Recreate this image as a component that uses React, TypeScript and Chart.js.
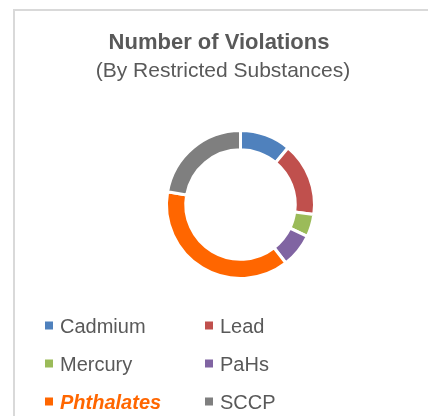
import React, { useEffect, useRef } from "react";
import { Chart, registerables } from "chart.js";

Chart.register(...registerables);

const titleText = "Number of Violations";
const subtitleText = "(By Restricted Substances)";
const categories = ["Cadmium", "Lead", "Mercury", "PaHs", "Phthalates", "SCCP"];
const violations = [9, 13, 4, 6, 31, 18];
const sliceColors = ["#4F81BD", "#C0504D", "#9BBB59", "#8064A2", "#FF6600", "#7F7F7F"];
const highlighted = ["Phthalates"];

const W = 428;
const H = 416;
const FONT = "'Liberation Sans', Arial, sans-serif";
const TEXT_COLOR = "#595959";

const frameAndText = {
  id: "frameAndText",
  beforeDraw(chart: any) {
    const ctx = chart.ctx as CanvasRenderingContext2D;
    ctx.save();
    ctx.fillStyle = "#FFFFFF";
    ctx.fillRect(0, 0, chart.width, chart.height);
    ctx.fillStyle = "#D9D9D9";
    ctx.fillRect(13, 9, chart.width - 13, 2);
    ctx.fillRect(13, 9, 2, chart.height - 9);
    ctx.restore();
  },
  afterDraw(chart: any) {
    const ctx = chart.ctx as CanvasRenderingContext2D;
    ctx.save();
    ctx.fillStyle = TEXT_COLOR;
    ctx.textAlign = "center";
    ctx.textBaseline = "alphabetic";
    ctx.font = `bold 22px ${FONT}`;
    ctx.fillText(titleText, 219, 49);
    ctx.font = `21px ${FONT}`;
    ctx.fillText(subtitleText, 223, 77);

    const labels = chart.data.labels as string[];
    const colors = chart.data.datasets[0].backgroundColor as string[];
    labels.forEach((lab, i) => {
      const col = i % 2;
      const row = Math.floor(i / 2);
      const mx = col === 0 ? 45 : 205;
      const cy = 325.5 + row * 38;
      ctx.fillStyle = colors[i];
      ctx.fillRect(mx, cy - 4, 8, 8);
      const hl = highlighted.includes(lab);
      ctx.fillStyle = hl ? colors[i] : TEXT_COLOR;
      ctx.font = `${hl ? "italic bold " : ""}20px ${FONT}`;
      ctx.textAlign = "left";
      ctx.fillText(lab, mx + 15, cy + 7);
    });
    ctx.restore();
  },
};

export default function App() {
  const canvasRef = useRef<HTMLCanvasElement | null>(null);

  useEffect(() => {
    const canvas = canvasRef.current;
    if (!canvas) return;
    const chart = new Chart(canvas, {
      type: "doughnut",
      data: {
        labels: categories,
        datasets: [
          {
            data: violations,
            backgroundColor: sliceColors,
            borderColor: "#FFFFFF",
            borderWidth: 3,
          },
        ],
      },
      options: {
        responsive: false,
        animation: false,
        devicePixelRatio: 1,
        events: [],
        radius: 74,
        cutout: "74%",
        layout: { padding: { left: 100, right: 47, top: 110, bottom: 117 } },
        plugins: {
          legend: { display: false },
          title: { display: false },
          tooltip: { enabled: false },
        },
      } as any,
      plugins: [frameAndText],
    });
    return () => chart.destroy();
  }, []);

  return (
    <div style={{ position: "fixed", left: 0, top: 0, width: W, height: H, background: "#fff" }}>
      <canvas ref={canvasRef} width={W} height={H} style={{ width: W, height: H, display: "block" }} />
    </div>
  );
}
